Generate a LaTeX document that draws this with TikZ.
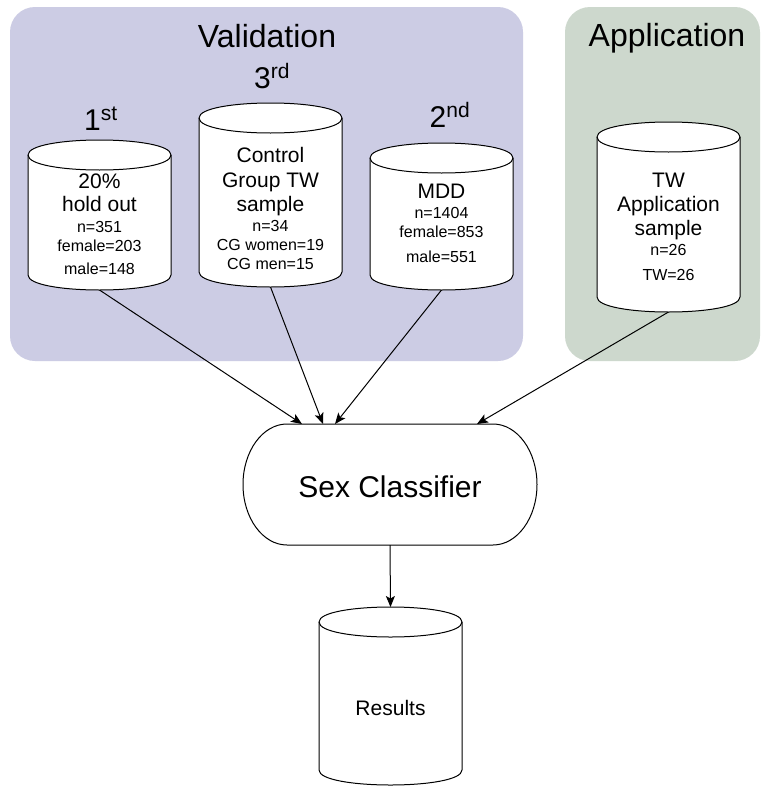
\documentclass[tikz,border=0pt]{standalone}
\usepackage{fontspec}
\setmainfont{Liberation Sans}
\usetikzlibrary{arrows.meta,calc}
\definecolor{valbg}{RGB}{204,204,228}
\definecolor{appbg}{RGB}{205,216,205}
\newcommand\drawcyl[1]{%
  \draw[cylline] let \p1=(#1.north west), \p2=(#1.south east) in
   (\x1,\y1-15pt) .. controls (\x1,\y1+5pt) and (\x2,\y1+5pt) .. (\x2,\y1-15pt)
   -- (\x2,\y2+15pt) .. controls (\x2,\y2-5pt) and (\x1,\y2-5pt) .. (\x1,\y2+15pt) -- cycle;
  \draw[cylarc] let \p1=(#1.north west), \p2=(#1.south east) in
   (\x1,\y1-15pt) .. controls (\x1,\y1-35pt) and (\x2,\y1-35pt) .. (\x2,\y1-15pt);}
\tikzset{
  cylbox/.style={inner sep=0pt, outer sep=0pt, draw=none, minimum width=143pt},
  cylline/.style={draw=black, fill=white, line width=1pt, line join=round},
  cylarc/.style={draw=black, line width=1pt},
  bigtxt/.style={anchor=base, inner sep=0pt, font=\fontsize{21}{25}\selectfont},
  smalltxt/.style={anchor=base, inner sep=0pt, font=\fontsize{16}{19}\selectfont},
  titletxt/.style={anchor=base, inner sep=0pt, font=\fontsize{32}{38}\selectfont},
  ordtxt/.style={anchor=base, inner sep=0pt, font=\fontsize{30}{36}\selectfont},
  arr/.style={draw=black, line width=1pt, -{Stealth[length=11pt,width=9pt,inset=2.5pt]}},
  panel/.style={rounded corners=25pt, draw=none}
}
\begin{document}
\begin{tikzpicture}[x=1pt,y=-1pt]
\useasboundingbox (0,0) rectangle (761,787);
\fill[white] (0,0) rectangle (761,787);
% panels
\fill[panel, fill=valbg] (10,7) rectangle (523,361);
\fill[panel, fill=appbg] (565,7) rectangle (760,361);
\node[titletxt] (tval) at (267,47) {Validation};
\node[titletxt] (tapp) at (667,46) {Application};
% ordinal labels
\node[ordtxt] (o1) at (101,130) {1\textsuperscript{st}};
\node[ordtxt] (o3) at (272,88) {3\textsuperscript{rd}};
\node[ordtxt] (o2) at (450,127) {2\textsuperscript{nd}};
% cylinders
\node[cylbox, minimum height=150pt] (c1) at (99.5,215) {};
\node[cylbox, minimum height=184pt] (c2) at (270.5,195) {};
\node[cylbox, minimum height=147pt] (c3) at (441.5,216.5) {};
\node[cylbox, minimum height=190pt] (c4) at (668.5,217) {};
\node[cylbox, minimum height=178pt] (res) at (390.5,696) {};
\drawcyl{c1}
\drawcyl{c2}
\drawcyl{c3}
\drawcyl{c4}
\drawcyl{res}
% cylinder 1 text
\node[bigtxt] (c1a) at (99.5,188) {20\%};
\node[bigtxt] (c1b) at (99.5,211) {hold out};
\node[smalltxt] (c1c) at (99.5,232) {n=351};
\node[smalltxt] (c1d) at (99.5,251) {female=203};
\node[smalltxt] (c1e) at (99.5,274) {male=148};
% cylinder 2 text
\node[bigtxt] (c2a) at (270.5,162) {Control};
\node[bigtxt] (c2b) at (270.5,187) {Group TW};
\node[bigtxt] (c2c) at (270.5,211) {sample};
\node[smalltxt] (c2d) at (270.5,231) {n=34};
\node[smalltxt] (c2e) at (270.5,250) {CG women=19};
\node[smalltxt] (c2f) at (270.5,269) {CG men=15};
% cylinder 3 text
\node[bigtxt] (c3a) at (441.5,198) {MDD};
\node[smalltxt] (c3b) at (441.5,218) {n=1404};
\node[smalltxt] (c3c) at (441.5,237) {female=853};
\node[smalltxt] (c3d) at (441.5,262) {male=551};
% cylinder 4 text
\node[bigtxt] (c4a) at (668.5,187) {TW};
\node[bigtxt] (c4b) at (668.5,211) {Application};
\node[bigtxt] (c4c) at (668.5,235) {sample};
\node[smalltxt] (c4d) at (668.5,255) {n=26};
\node[smalltxt] (c4e) at (668.5,280) {TW=26};
% results text
\node[bigtxt] (rest) at (390.5,715) {Results};
% classifier
\node[inner sep=0pt, outer sep=0pt, minimum width=294pt, minimum height=121pt] (sc) at (390,484.5) {};
\draw[line width=1pt, fill=white] let \p1=(sc.north west), \p2=(sc.south east) in
  (\x1+44pt,\y1) -- (\x2-44pt,\y1) arc[start angle=90,end angle=-90,x radius=44pt,y radius=60.5pt]
  -- (\x1+44pt,\y2) arc[start angle=270,end angle=90,x radius=44pt,y radius=60.5pt] -- cycle;
\node[anchor=base, inner sep=0pt, font=\fontsize{30}{36}\selectfont] (sct) at (390,497) {Sex Classifier};
% connectors
\draw[arr] (c1.south) -- ($(sc.north west)+(59,0)$);
\draw[arr] (c2.south) -- ($(sc.north west)+(80,0)$);
\draw[arr] (c3.south) -- ($(sc.north west)+(92,0)$);
\draw[arr] (c4.south) -- ($(sc.north west)+(234,0)$);
\draw[arr] (sc.south) -- (res.north);
\end{tikzpicture}
\end{document}
